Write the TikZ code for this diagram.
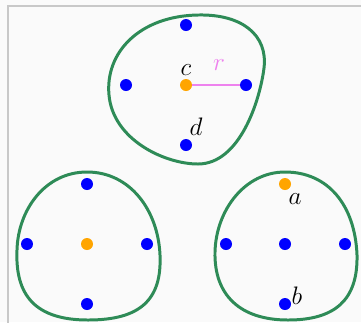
\documentclass[tikz,border=0pt]{standalone}
\usetikzlibrary{calc}
\definecolor{bg}{HTML}{FAFAFA}
\definecolor{frame}{HTML}{C8C8C8}
\definecolor{blob}{HTML}{2E8B57}
\definecolor{orng}{HTML}{FFA500}
\definecolor{pnk}{HTML}{EE82EE}
\tikzset{
  px/.style={x=0.02cm,y=-0.02cm},
  blobline/.style={draw=blob,line width=1.7pt},
  bdot/.style={circle,fill=blue,inner sep=0pt,minimum size=0.24cm},
  odot/.style={circle,fill=orng,inner sep=0pt,minimum size=0.24cm},
  lbl/.style={inner sep=0pt,font=\Large}
}
\begin{document}
\begin{tikzpicture}[px]
\useasboundingbox (0,0) rectangle (361,322);
\fill[bg] (0,0) rectangle (361,322);
\draw[frame,line width=0.8pt] (8,330) -- (8,6) -- (370,6);
% blobs
\draw[blobline] (198,15) .. controls (242,14) and (268,35) .. (264,68)
  .. controls (260,100) and (240,164) .. (198,164)
  .. controls (165,164) and (113,140) .. (109,95)
  .. controls (105,52) and (140,16) .. (198,15) -- cycle;
\draw[blobline] (87,172) .. controls (130,172) and (158,210) .. (160,255)
  .. controls (162,300) and (140,320) .. (88,320)
  .. controls (35,320) and (15,295) .. (17,250)
  .. controls (18,210) and (45,172) .. (87,172) -- cycle;
\draw[blobline] (285,172) .. controls (328,172) and (355,205) .. (357,255)
  .. controls (358,300) and (335,320) .. (288,320)
  .. controls (240,320) and (214,295) .. (215,252)
  .. controls (216,210) and (245,172) .. (285,172) -- cycle;
% top group
\node[odot] (c) at (186,85) {};
\node[bdot] (t1) at (186,25) {};
\node[bdot] (t2) at (126,85) {};
\node[bdot] (t3) at (246,85) {};
\node[bdot] (d) at (186,145) {};
\draw[pnk,line width=1pt] (c) -- (t3);
\node[lbl] (lc) at (186,70) {$c$};
\node[lbl,text=pnk] (lr) at (219,65) {$r$};
\node[lbl] (ld) at (196,127) {$d$};
% bottom-left group
\node[odot] (l0) at (87,244) {};
\node[bdot] (l1) at (87,184) {};
\node[bdot] (l2) at (27,244) {};
\node[bdot] (l3) at (147,244) {};
\node[bdot] (l4) at (87,304) {};
% bottom-right group
\node[bdot] (r0) at (285,244) {};
\node[odot] (a) at (285,184) {};
\node[bdot] (r2) at (226,244) {};
\node[bdot] (r3) at (345,244) {};
\node[bdot] (b) at (285,304) {};
\node[lbl] (la) at (295,199) {$a$};
\node[lbl] (lb) at (297,296) {$b$};
\end{tikzpicture}
\end{document}
